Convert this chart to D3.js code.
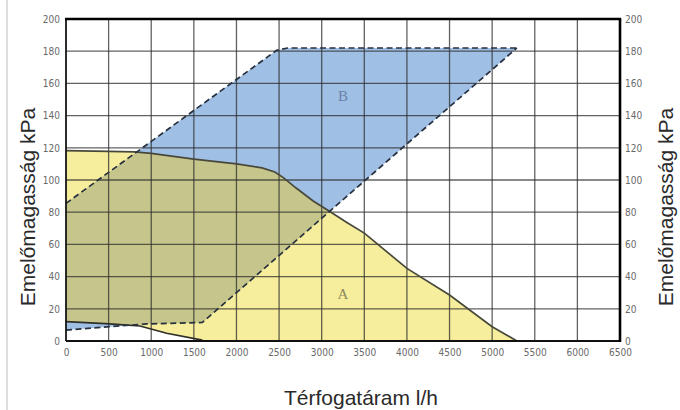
<!DOCTYPE html>
<html>
<head>
<meta charset="utf-8">
<script src="https://cdn.jsdelivr.net/npm/d3@7/dist/d3.min.js"></script>
<style>
  html, body { margin: 0; padding: 0; background: #fff; }
  svg { display: block; }
</style>
</head>
<body>
<svg id="chart" width="680" height="410"></svg>
<script>
// Flow rate ticks (l/h) and head ticks (kPa)
const xTicks = d3.range(0, 6501, 500);
const yTicks = d3.range(0, 201, 20);

// Area A: maximum pump curve [flow, head]
const curveMax = [
  [0, 118.2], [500, 117.8], [800, 117.5], [1000, 116.5], [1500, 113],
  [2000, 110], [2300, 107.5], [2450, 105], [2550, 101.5], [2700, 95],
  [2900, 87], [3100, 80.3], [3300, 73.5], [3500, 67], [4000, 45.1],
  [4500, 28.6], [5000, 8.9], [5290, 0]
];
// Area A: minimum pump curve
const curveMin = [
  [0, 12], [516, 10.6], [868, 9.3], [1181, 4.8], [1600, 0.5]
];
// Area B: upper dashed boundary
const bUpper = [
  [0, 85.5], [2470, 180.5], [2600, 182], [5290, 182]
];
// Area B: lower dashed boundary (left to right)
const bLower = [
  [0, 6.8], [516, 8.9], [946, 10.6], [1600, 11.5], [5290, 182]
];

const areaLabels = [
  { name: "A", flow: 3250, head: 29 },
  { name: "B", flow: 3250, head: 152 }
];

const yTitle = "Emelőmagasság kPa";
const xTitle = "Térfogatáram l/h";

const svg = d3.select("#chart");
const pLeft = 66, pRight = 620, pTop = 19, pBottom = 341;

const x = d3.scaleLinear().domain([0, 6500]).range([pLeft, pRight]);
const y = d3.scaleLinear().domain([0, 200]).range([pBottom, pTop]);

const line = d3.line().x(d => x(d[0])).y(d => y(d[1]));

// page frame line on the left
svg.append("line")
  .attr("x1", 7).attr("x2", 7).attr("y1", 0).attr("y2", 410)
  .attr("stroke", "#dedede").attr("stroke-width", 2);

// polygons
const polyA = curveMax.concat([[1600, 0]], curveMin.slice().reverse());
const polyB = bUpper.concat(bLower.slice(0, -1).reverse());

const defs = svg.append("defs");
defs.append("clipPath").attr("id", "clipB")
  .append("path").attr("d", line(polyB) + "Z");

svg.append("path").attr("d", line(polyB) + "Z").attr("fill", "#a0bfe5");
svg.append("path").attr("d", line(polyA) + "Z").attr("fill", "#f6ee9c");
svg.append("path").attr("d", line(polyA) + "Z").attr("fill", "#c6c68c")
  .attr("clip-path", "url(#clipB)");

// grid
const grid = svg.append("g");
grid.selectAll(".vx").data(xTicks).join("line")
  .attr("x1", d => x(d)).attr("x2", d => x(d))
  .attr("y1", pTop).attr("y2", pBottom)
  .attr("stroke", "#2e2e2e").attr("stroke-opacity", 0.75).attr("stroke-width", 1.3);
grid.selectAll(".hy").data(yTicks).join("line")
  .attr("x1", pLeft).attr("x2", pRight)
  .attr("y1", d => y(d)).attr("y2", d => y(d))
  .attr("stroke", "#2e2e2e").attr("stroke-opacity", 0.75).attr("stroke-width", 1.3);

// curves
svg.append("path").attr("d", line(curveMax)).attr("fill", "none")
  .attr("stroke", "#48483a").attr("stroke-width", 1.7);
svg.append("path").attr("d", line(curveMin)).attr("fill", "none")
  .attr("stroke", "#2f2f28").attr("stroke-width", 1.7);

svg.append("path").attr("d", line(bUpper)).attr("fill", "none")
  .attr("stroke", "#27303e").attr("stroke-width", 1.7).attr("stroke-dasharray", "6,3.5");
svg.append("path").attr("d", line(bLower)).attr("fill", "none")
  .attr("stroke", "#27303e").attr("stroke-width", 1.7).attr("stroke-dasharray", "6,3.5");

// frame
svg.append("line").attr("x1", pLeft).attr("x2", pLeft).attr("y1", pTop).attr("y2", pBottom)
  .attr("stroke", "#111").attr("stroke-width", 1.6);
svg.append("line").attr("x1", pLeft).attr("x2", pRight).attr("y1", pBottom).attr("y2", pBottom)
  .attr("stroke", "#111").attr("stroke-width", 2);
svg.append("line").attr("x1", pLeft - 1).attr("x2", pRight + 1.2).attr("y1", pTop).attr("y2", pTop)
  .attr("stroke", "#000").attr("stroke-width", 2.6);
svg.append("line").attr("x1", pRight).attr("x2", pRight).attr("y1", pTop).attr("y2", pBottom + 1)
  .attr("stroke", "#000").attr("stroke-width", 2.6);

// area labels
svg.selectAll(".alabel").data(areaLabels).join("text")
  .attr("x", d => x(d.flow)).attr("y", d => y(d.head))
  .attr("text-anchor", "middle").attr("dominant-baseline", "central")
  .attr("font-family", "'Liberation Serif', 'DejaVu Serif', serif")
  .attr("font-size", 15)
  .attr("fill", d => d.name === "A" ? "#8c8860" : "#6a82a8")
  .text(d => d.name);

// axes (labels only)
const tickFont = "'DejaVu Sans Condensed', 'DejaVu Sans', sans-serif";
function styleAxis(g) {
  g.select(".domain").remove();
  g.selectAll(".tick line").remove();
  g.selectAll("text").attr("font-family", tickFont).attr("font-size", 10)
    .attr("fill", "#6a6a6a");
}
svg.append("g").attr("transform", `translate(0,${pBottom})`)
  .call(d3.axisBottom(x).tickValues(xTicks).tickSize(0).tickPadding(8).tickFormat(d3.format("d")))
  .call(styleAxis);
svg.append("g").attr("transform", `translate(${pLeft},0)`)
  .call(d3.axisLeft(y).tickValues(yTicks).tickSize(0).tickPadding(6).tickFormat(d3.format("d")))
  .call(styleAxis);
svg.append("g").attr("transform", `translate(${pRight},0)`)
  .call(d3.axisRight(y).tickValues(yTicks).tickSize(0).tickPadding(5).tickFormat(d3.format("d")))
  .call(styleAxis);

// axis titles
const titleFont = "'Liberation Sans', Arial, sans-serif";
svg.append("text")
  .attr("transform", "translate(35,207) rotate(-90)")
  .attr("text-anchor", "middle")
  .attr("font-family", titleFont).attr("font-size", 21).attr("fill", "#2a2a2a")
  .text(yTitle);
svg.append("text")
  .attr("transform", "translate(673,207) rotate(-90)")
  .attr("text-anchor", "middle")
  .attr("font-family", titleFont).attr("font-size", 21).attr("fill", "#2a2a2a")
  .text(yTitle);
svg.append("text")
  .attr("x", 361).attr("y", 405)
  .attr("text-anchor", "middle")
  .attr("font-family", titleFont).attr("font-size", 21).attr("fill", "#2a2a2a")
  .text(xTitle);
</script>
</body>
</html>
